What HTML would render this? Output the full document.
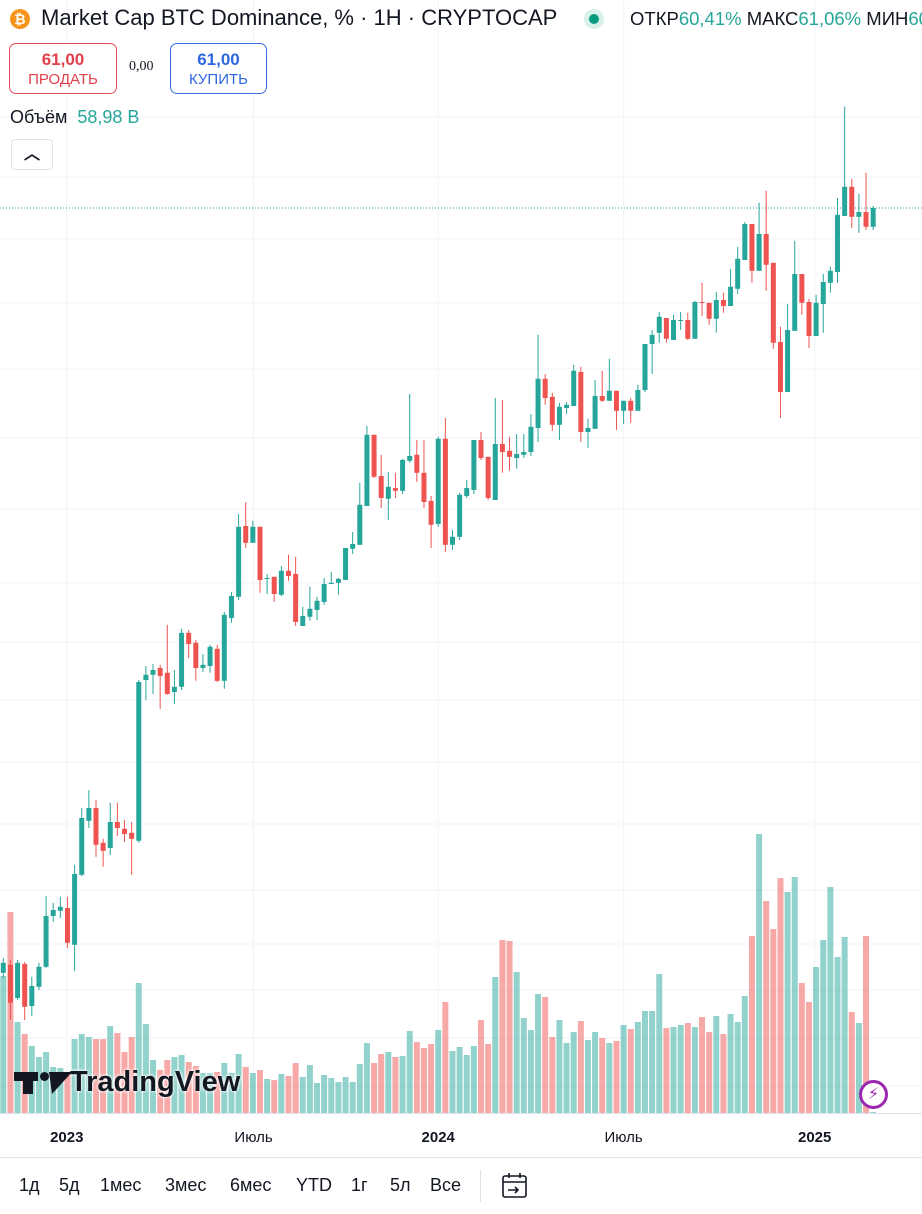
<!DOCTYPE html>
<html><head><meta charset="utf-8">
<style>
*{margin:0;padding:0;box-sizing:border-box}
body{width:922px;height:1214px;overflow:hidden;background:#fff;font-family:"Liberation Sans","DejaVu Sans",sans-serif;color:#131722;position:relative}
.abs{position:absolute}
#chart{position:absolute;left:0;top:0}
.btn{position:absolute;border-radius:7px;text-align:center;background:#fff}
.tb{position:absolute;top:1175px;font-size:18px;color:#131722}
</style></head><body>
<svg id="chart" width="922" height="1214"></svg>

<div class="abs" style="left:10px;top:9px;width:20px;height:20px;border-radius:50%;background:#f7931a;color:#fff;font-size:14px;font-weight:bold;text-align:center;line-height:20px">₿</div>
<div class="abs" style="left:41px;top:5px;font-size:22px;white-space:nowrap">Market Cap BTC Dominance, % · 1Н · CRYPTOCAP</div>
<div class="abs" style="left:584px;top:9px;width:20px;height:20px;border-radius:50%;background:#d8f0ea"><div style="margin:5px;width:10px;height:10px;border-radius:50%;background:#089981"></div></div>
<div class="abs" style="left:630px;top:8px;font-size:18.5px;white-space:nowrap;width:292px;overflow:hidden">ОТКР<span style="color:#26a69a">60,41%</span> МАКС<span style="color:#26a69a">61,06%</span> МИН<span style="color:#26a69a">60,38%</span></div>

<div class="btn" style="left:9px;top:43px;width:108px;height:51px;border:1px solid #e44a55;color:#e0404c">
<div style="font-size:17px;font-weight:bold;margin-top:6px">61,00</div><div style="font-size:15px;margin-top:1px">ПРОДАТЬ</div></div>
<div class="abs" style="left:129px;top:59px;font-size:14px;font-family:'Liberation Serif',serif">0,00</div>
<div class="btn" style="left:170px;top:43px;width:97px;height:51px;border:1px solid #3a72e0;color:#2f67e2">
<div style="font-size:17px;font-weight:bold;margin-top:6px">61,00</div><div style="font-size:15px;margin-top:1px">КУПИТЬ</div></div>
<div class="abs" style="left:10px;top:107px;font-size:18px;white-space:nowrap">Объём &nbsp;<span style="color:#26a69a">58,98 B</span></div>
<div class="abs" style="left:11px;top:139px;width:42px;height:31px;border:1px solid #e0e3eb;border-radius:4px;background:#fff;text-align:center;font-size:16px;line-height:30px;font-weight:bold">︿</div>

<div class="abs" style="left:14px;top:1066px;height:34px;white-space:nowrap">
<span style="display:inline-block;vertical-align:middle;position:relative;width:56px;height:26px">
<span style="position:absolute;left:0;top:2px;width:24px;height:9px;background:#131722"></span>
<span style="position:absolute;left:9px;top:2px;width:10px;height:22px;background:#131722"></span>
<span style="position:absolute;left:26px;top:2px;width:9px;height:9px;border-radius:50%;background:#131722"></span>
<span style="position:absolute;left:31px;top:2px;width:0;height:0;border-left:11px solid transparent;border-right:12px solid transparent;border-top:22px solid #131722;transform:skewX(-20deg)"></span>
</span><span style="font-size:29px;font-weight:bold;color:#131722;vertical-align:middle;text-shadow:0 0 3px #fff,0 0 3px #fff">TradingView</span></div>

<div class="abs" style="left:859px;top:1080px;width:29px;height:29px;border-radius:50%;border:3px solid #9c27b0;background:#fff;color:#9c27b0;text-align:center;font-size:16px;line-height:23px">⚡</div>

<div class="abs" style="left:0;top:1157px;width:922px;height:1px;background:#e0e3eb"></div>
<div class="tb" style="left:19px">1д</div>
<div class="tb" style="left:59px">5д</div>
<div class="tb" style="left:100px">1мес</div>
<div class="tb" style="left:165px">3мес</div>
<div class="tb" style="left:230px">6мес</div>
<div class="tb" style="left:296px">YTD</div>
<div class="tb" style="left:351px">1г</div>
<div class="tb" style="left:390px">5л</div>
<div class="tb" style="left:430px">Все</div>
<div class="abs" style="left:480px;top:1170px;width:1px;height:32px;background:#e0e3eb"></div>
<svg class="abs" style="left:500px;top:1171px" width="30" height="30" viewBox="0 0 30 30" fill="none" stroke="#131722" stroke-width="1.6"><rect x="3" y="5" width="23" height="21" rx="2"/><line x1="3" y1="11" x2="26" y2="11"/><line x1="9" y1="2" x2="9" y2="7"/><line x1="20" y1="2" x2="20" y2="7"/><path d="M8 19h10M15 16l3 3-3 3"/></svg>

<script>
const dates0 = "2022-10-31";
const opens  = [41.88,42.08,41.25,42.1,41.05,41.53,42.03,43.3,43.43,43.5,42.58,44.33,45.68,46.0,45.13,45.0,45.65,45.48,45.38,45.18,49.2,49.33,49.5,49.38,48.9,49.03,50.38,50.13,49.5,49.55,49.98,49.18,50.75,51.28,53.05,52.63,53.03,51.73,51.78,51.33,51.93,51.85,50.55,50.78,50.95,51.15,51.6,51.63,51.7,52.48,52.58,53.55,55.33,54.3,53.73,54.0,53.93,54.68,54.83,54.38,53.68,53.1,55.23,52.58,52.78,53.8,53.95,55.2,54.78,53.7,55.1,54.93,54.75,54.83,54.9,55.5,56.73,56.28,55.58,56.0,56.05,56.9,55.4,55.48,56.3,56.18,56.43,55.93,56.18,55.93,56.45,57.6,57.88,58.25,57.7,58.18,58.2,57.73,58.65,58.63,58.23,58.7,58.55,58.98,59.7,60.6,59.43,60.35,59.63,57.65,56.4,57.93,59.35,58.65,57.8,58.6,59.13,59.4,60.8,61.53,60.78,60.9,60.53];
const highs  = [42.25,42.2,42.2,42.15,41.78,42.13,43.8,43.63,43.78,43.78,44.58,46.0,46.45,46.2,45.23,46.13,46.13,45.7,45.65,49.2,49.55,49.6,49.58,50.58,49.45,50.48,50.45,50.2,49.85,50.08,50.08,50.9,51.4,53.35,53.65,53.18,53.03,51.85,51.78,52.05,52.33,52.28,51.03,51.53,51.28,51.75,51.9,51.75,52.5,52.9,54.13,55.55,55.33,54.83,54.4,54.38,54.73,56.35,55.2,55.2,53.8,55.28,55.75,52.95,53.88,54.2,55.2,55.4,54.78,56.25,56.2,55.28,55.35,55.35,55.85,57.83,56.85,56.38,56.13,56.15,57.08,57.03,55.73,56.7,56.93,57.23,56.43,56.18,56.25,56.58,57.6,57.95,58.4,58.25,58.33,58.4,58.38,58.68,59.13,58.63,58.9,58.88,59.48,60.03,60.65,60.6,61.13,61.43,59.63,58.03,58.6,60.18,59.35,58.73,58.83,59.35,59.53,61.25,63.53,61.73,61.35,61.88,61.05];
const lows   = [41.75,40.7,41.2,40.7,40.8,41.45,42.0,43.15,43.25,42.5,41.93,44.3,45.5,44.78,44.53,44.83,45.3,45.15,44.33,45.13,48.7,48.85,48.48,48.83,48.6,48.95,49.75,49.18,49.4,49.38,49.15,48.98,50.63,51.2,52.5,52.63,51.38,51.35,51.15,51.3,51.68,50.55,50.55,50.68,50.7,51.08,51.6,51.33,51.7,52.35,52.58,53.55,54.25,53.5,53.2,53.75,53.85,54.63,54.15,53.5,52.5,53.03,52.4,52.45,52.7,53.75,53.85,54.7,53.7,53.7,54.38,54.43,54.48,54.75,54.8,55.15,56.08,55.43,55.2,55.85,56.05,55.15,55.0,55.48,56.15,56.18,55.45,55.6,55.63,55.93,56.4,56.85,57.63,57.63,57.7,57.95,57.7,57.73,58.3,58.08,57.88,58.38,58.55,58.85,59.7,59.13,59.43,58.93,57.48,55.75,56.4,57.93,58.33,57.5,57.8,57.88,58.88,59.13,60.8,60.5,60.38,60.45,60.45];
const closes = [42.13,41.13,42.13,41.03,41.55,42.03,43.3,43.45,43.53,42.63,44.35,45.75,46.0,45.08,44.93,45.65,45.5,45.35,45.23,49.15,49.33,49.45,49.3,48.85,49.03,50.38,50.1,49.5,49.58,50.03,49.18,50.83,51.3,53.03,52.63,53.03,51.7,51.75,51.35,51.93,51.8,50.65,50.8,50.98,51.18,51.6,51.63,51.73,52.5,52.6,53.58,55.33,54.28,53.75,54.03,53.93,54.7,54.8,54.38,53.65,53.08,55.23,52.58,52.78,53.83,54.0,55.2,54.75,53.75,55.1,54.9,54.78,54.85,54.9,55.53,56.73,56.25,55.58,56.03,56.08,56.93,55.4,55.5,56.3,56.18,56.43,55.93,56.18,55.93,56.45,57.6,57.83,58.28,57.73,58.2,58.2,57.73,58.65,58.63,58.23,58.7,58.55,59.03,59.73,60.6,59.43,60.35,59.58,57.63,56.4,57.95,59.35,58.63,57.8,58.63,59.15,59.43,60.83,61.53,60.78,60.9,60.53,61.0];
const volumes = [137,201,91,79,67,56,61,46,45,40,74,79,76,74,74,87,80,61,76,130,89,53,43,53,56,58,51,47,40,40,41,50,40,59,46,40,43,34,33,39,37,50,36,48,30,38,35,31,36,31,49,70,50,59,61,56,57,82,71,65,69,83,111,62,66,58,67,93,69,136,173,172,141,95,83,119,116,76,93,70,81,92,73,81,75,70,72,88,84,91,102,102,139,85,86,88,90,86,96,81,97,79,99,91,117,177,279,212,184,235,221,236,130,111,146,173,226,156,176,101,90,177,1];
const xLabels = ["2023","Июль","2024","Июль","2025"];
const xLabelIdx = [8.9,35.1,61,87,113.8];
const lastPrice = 61.0;

const NS="http://www.w3.org/2000/svg";
const svg=document.getElementById('chart');
function xS(i){return 3.3+7.13*i;}
function yS(p){return 2648-40*p;}
function vS(v){return 1113-v;}
function mk(tag,attrs,parent){const e=document.createElementNS(NS,tag);for(const k in attrs)e.setAttribute(k,attrs[k]);(parent||svg).appendChild(e);return e;}

const grid=mk('g',{});


[117,177,239,303,369,438,509,583,642,700,762,824,890,944,990,1038,1086].forEach(y=>{
  const l=mk('line',{x1:0,x2:922,y1:y,y2:y,stroke:'#f0f3fa','stroke-width':1},grid);
  
  
});
xLabelIdx.forEach(i=>{
  const l=mk('line',{x1:xS(i),x2:xS(i),y1:0,y2:1113,stroke:'#f0f3fa','stroke-width':1},grid);
  
  
});

const vg=mk('g',{});


volumes.forEach((v,i)=>{
  const up=closes[i]>=opens[i];
  const r=mk('rect',{x:xS(i)-3,y:vS(v),width:6,height:1113-vS(v),fill:up?'rgba(38,166,154,0.5)':'rgba(239,83,80,0.5)'},vg);
  
  
});

const pl=mk('line',{x1:0,x2:922,y1:yS(lastPrice),y2:yS(lastPrice),stroke:'#26a69a','stroke-width':1,'stroke-dasharray':'1 2'});



const cg=mk('g',{});


opens.forEach((o,i)=>{
  const c=closes[i],up=c>=o,col=up?'#26a69a':'#ef5350',x=xS(i);
  const w=mk('line',{x1:x,x2:x,y1:yS(highs[i]),y2:yS(lows[i]),stroke:col,'stroke-width':1},cg);
  
  
  const t=yS(Math.max(o,c)),b=yS(Math.min(o,c));
  const r=mk('rect',{x:x-2.5,y:t,width:5,height:Math.max(1,b-t),fill:col},cg);
  
  
});

const ax=mk('line',{x1:0,x2:922,y1:1113.5,y2:1113.5,stroke:'#e0e3eb','stroke-width':1});


xLabels.forEach((t,k)=>{
  const isYear=/^\d+$/.test(t);
  const e=mk('text',{x:xS(xLabelIdx[k]),y:1142,'text-anchor':'middle','font-size':'15','font-weight':isYear?'bold':'normal',fill:'#131722','font-family':'Liberation Sans, sans-serif'});
  e.textContent=t;
  
  
});
</script>
</body></html>
